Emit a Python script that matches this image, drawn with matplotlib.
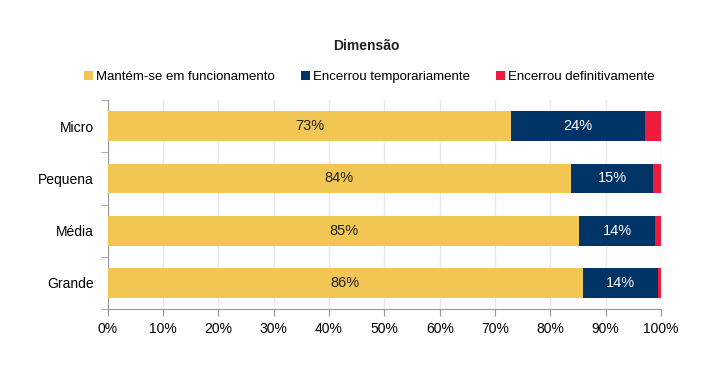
import matplotlib.pyplot as plt
import numpy as np

plt.rcParams['font.family'] = ['Liberation Sans', 'DejaVu Sans']

# data
categorias = ['Micro', 'Pequena', 'Média', 'Grande']
funcionamento = [72.9, 83.7, 85.2, 85.9]
temporario = [24.2, 14.9, 13.7, 13.6]
definitivo = [2.9, 1.4, 1.1, 0.5]
series_nomes = ['Mantém-se em funcionamento', 'Encerrou temporariamente', 'Encerrou definitivamente']

cores = ['#F2C652', '#003366', '#EE1B3F']

fig = plt.figure(figsize=(7.28, 3.68), dpi=100)
ax = fig.add_axes([0.148, 0.160, 0.760, 0.568])

y = np.arange(len(categorias))
h = 0.57
esq = np.zeros(len(categorias))
for vals, cor, nome in zip([funcionamento, temporario, definitivo], cores, series_nomes):
    ax.barh(y, vals, left=esq, height=h, color=cor, label=nome, zorder=3)
    esq = esq + np.array(vals)

# rotulos
for i in range(len(categorias)):
    ax.text(funcionamento[i] / 2, y[i], f'{round(funcionamento[i])}%',
            ha='center', va='center', fontsize=10.5, color='#222222', zorder=4)
    ax.text(funcionamento[i] + temporario[i] / 2, y[i], f'{round(temporario[i])}%',
            ha='center', va='center', fontsize=10.5, color='white', zorder=4)

ax.set_xlim(0, 100)
ax.set_ylim(len(categorias) - 0.5, -0.5)
ax.set_xticks(np.arange(0, 101, 10))
ax.set_xticklabels([f'{v}%' for v in range(0, 101, 10)], fontsize=10)
ax.set_yticks(y)
ax.set_yticklabels(categorias, fontsize=10)
ax.tick_params(axis='y', length=0, pad=10)
ax.set_yticks(np.arange(-0.5, len(categorias), 1), minor=True)
ax.tick_params(axis='y', which='minor', length=5, color='#999999', direction='out')
ax.tick_params(axis='x', length=5, color='#999999', direction='out', pad=4)
ax.grid(axis='x', color='#E8E8E8', linewidth=1, zorder=0)

for s in ['top', 'right']:
    ax.spines[s].set_visible(False)
for s in ['left', 'bottom']:
    ax.spines[s].set_color('#999999')

fig.text(0.503, 0.876, 'Dimensão', ha='center', va='center', fontsize=10, fontweight='bold', color='#222222')
fig.legend(loc='center', bbox_to_anchor=(0.507, 0.79), ncol=3, frameon=False, fontsize=9.5,
           handlelength=0.7, handleheight=0.7, handletextpad=0.2, columnspacing=2.0)

fig.savefig('out.png', dpi=100)
